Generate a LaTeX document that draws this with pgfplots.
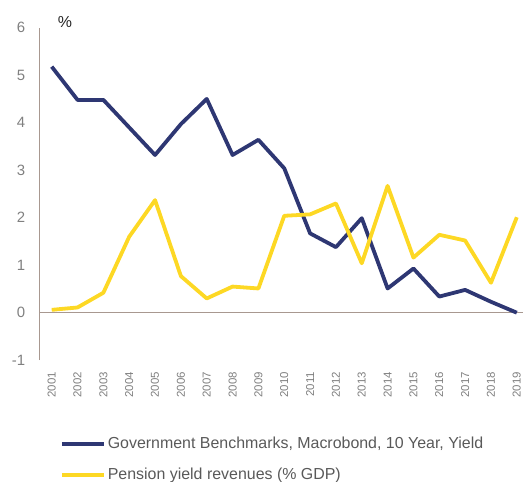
\documentclass[border=0pt]{standalone}
\usepackage{pgfplots}
\pgfplotsset{compat=1.18}
\usepackage{fontspec}
\setmainfont{Liberation Sans}
\definecolor{navy}{HTML}{2E3773}
\definecolor{yel}{HTML}{FDD824}
\definecolor{axc}{HTML}{A89890}
\definecolor{tickc}{HTML}{808080}
\definecolor{legc}{HTML}{595959}
\begin{document}
\begin{tikzpicture}
\begin{axis}[
  scale only axis,
  width=483.7bp, height=332.5bp,
  xmin=2000.52, xmax=2019.24,
  ymin=-1, ymax=6,
  clip=false,
  axis y line=left,
  axis x line=bottom,
  x axis line style={draw=none},
  y axis line style={draw=axc, line width=1.3bp, -},
  major tick length=0pt,
  ytick={-1,0,1,2,3,4,5,6},
  xtick={2001,...,2019},
  xticklabel style={/pgf/number format/1000 sep={}},
  xticklabel shift=11.5bp,
  xticklabel style={rotate=90, anchor=east, font=\fontsize{11.5}{13}\selectfont, text=tickc, inner sep=0pt},
  yticklabel style={font=\fontsize{15}{17}\selectfont, text=tickc, inner sep=0pt},
  yticklabel shift=14bp,
  /pgf/number format/assume math mode=true,
  legend style={at={(axis description cs:0.042,-0.225)}, anchor=north west, draw=none, fill=none,
    font=\fontsize{16}{18}\selectfont, text=legc, row sep=14bp, inner sep=0pt},
  legend cell align=left,
  legend image code/.code={\draw[#1, line width=4bp] (0bp,0bp) -- (42bp,0bp);},
]
\draw[axc, line width=1.3bp] (axis cs:2000.52,0) -- (axis cs:2019.24,0);
\addplot[navy, line width=3.8bp, line join=round] coordinates {
(2001,5.18) (2002,4.48) (2003,4.48) (2004,3.90) (2005,3.32) (2006,3.97) (2007,4.50) (2008,3.32) (2009,3.64) (2010,3.04)
(2011,1.67) (2012,1.38) (2013,1.99) (2014,0.51) (2015,0.93) (2016,0.34) (2017,0.48) (2018,0.23) (2019,0.0)};
\addlegendentry{Government Benchmarks, Macrobond, 10 Year, Yield}
\addplot[yel, line width=3.8bp, line join=round] coordinates {
(2001,0.06) (2002,0.11) (2003,0.42) (2004,1.60) (2005,2.37) (2006,0.77) (2007,0.30) (2008,0.55) (2009,0.51) (2010,2.04)
(2011,2.07) (2012,2.30) (2013,1.04) (2014,2.67) (2015,1.16) (2016,1.64) (2017,1.52) (2018,0.63) (2019,2.01)};
\addlegendentry{Pension yield revenues (\% GDP)}
\node[anchor=base west, font=\fontsize{16}{18}\selectfont, text=black!85, inner sep=0pt] at ([xshift=18.5bp]rel axis cs:0,1) {\%};
\end{axis}
\pgfresetboundingbox
\path[use as bounding box] (-39.3bp,-121.8bp) rectangle (483.7bp,360.2bp);
\end{tikzpicture}
\end{document}
